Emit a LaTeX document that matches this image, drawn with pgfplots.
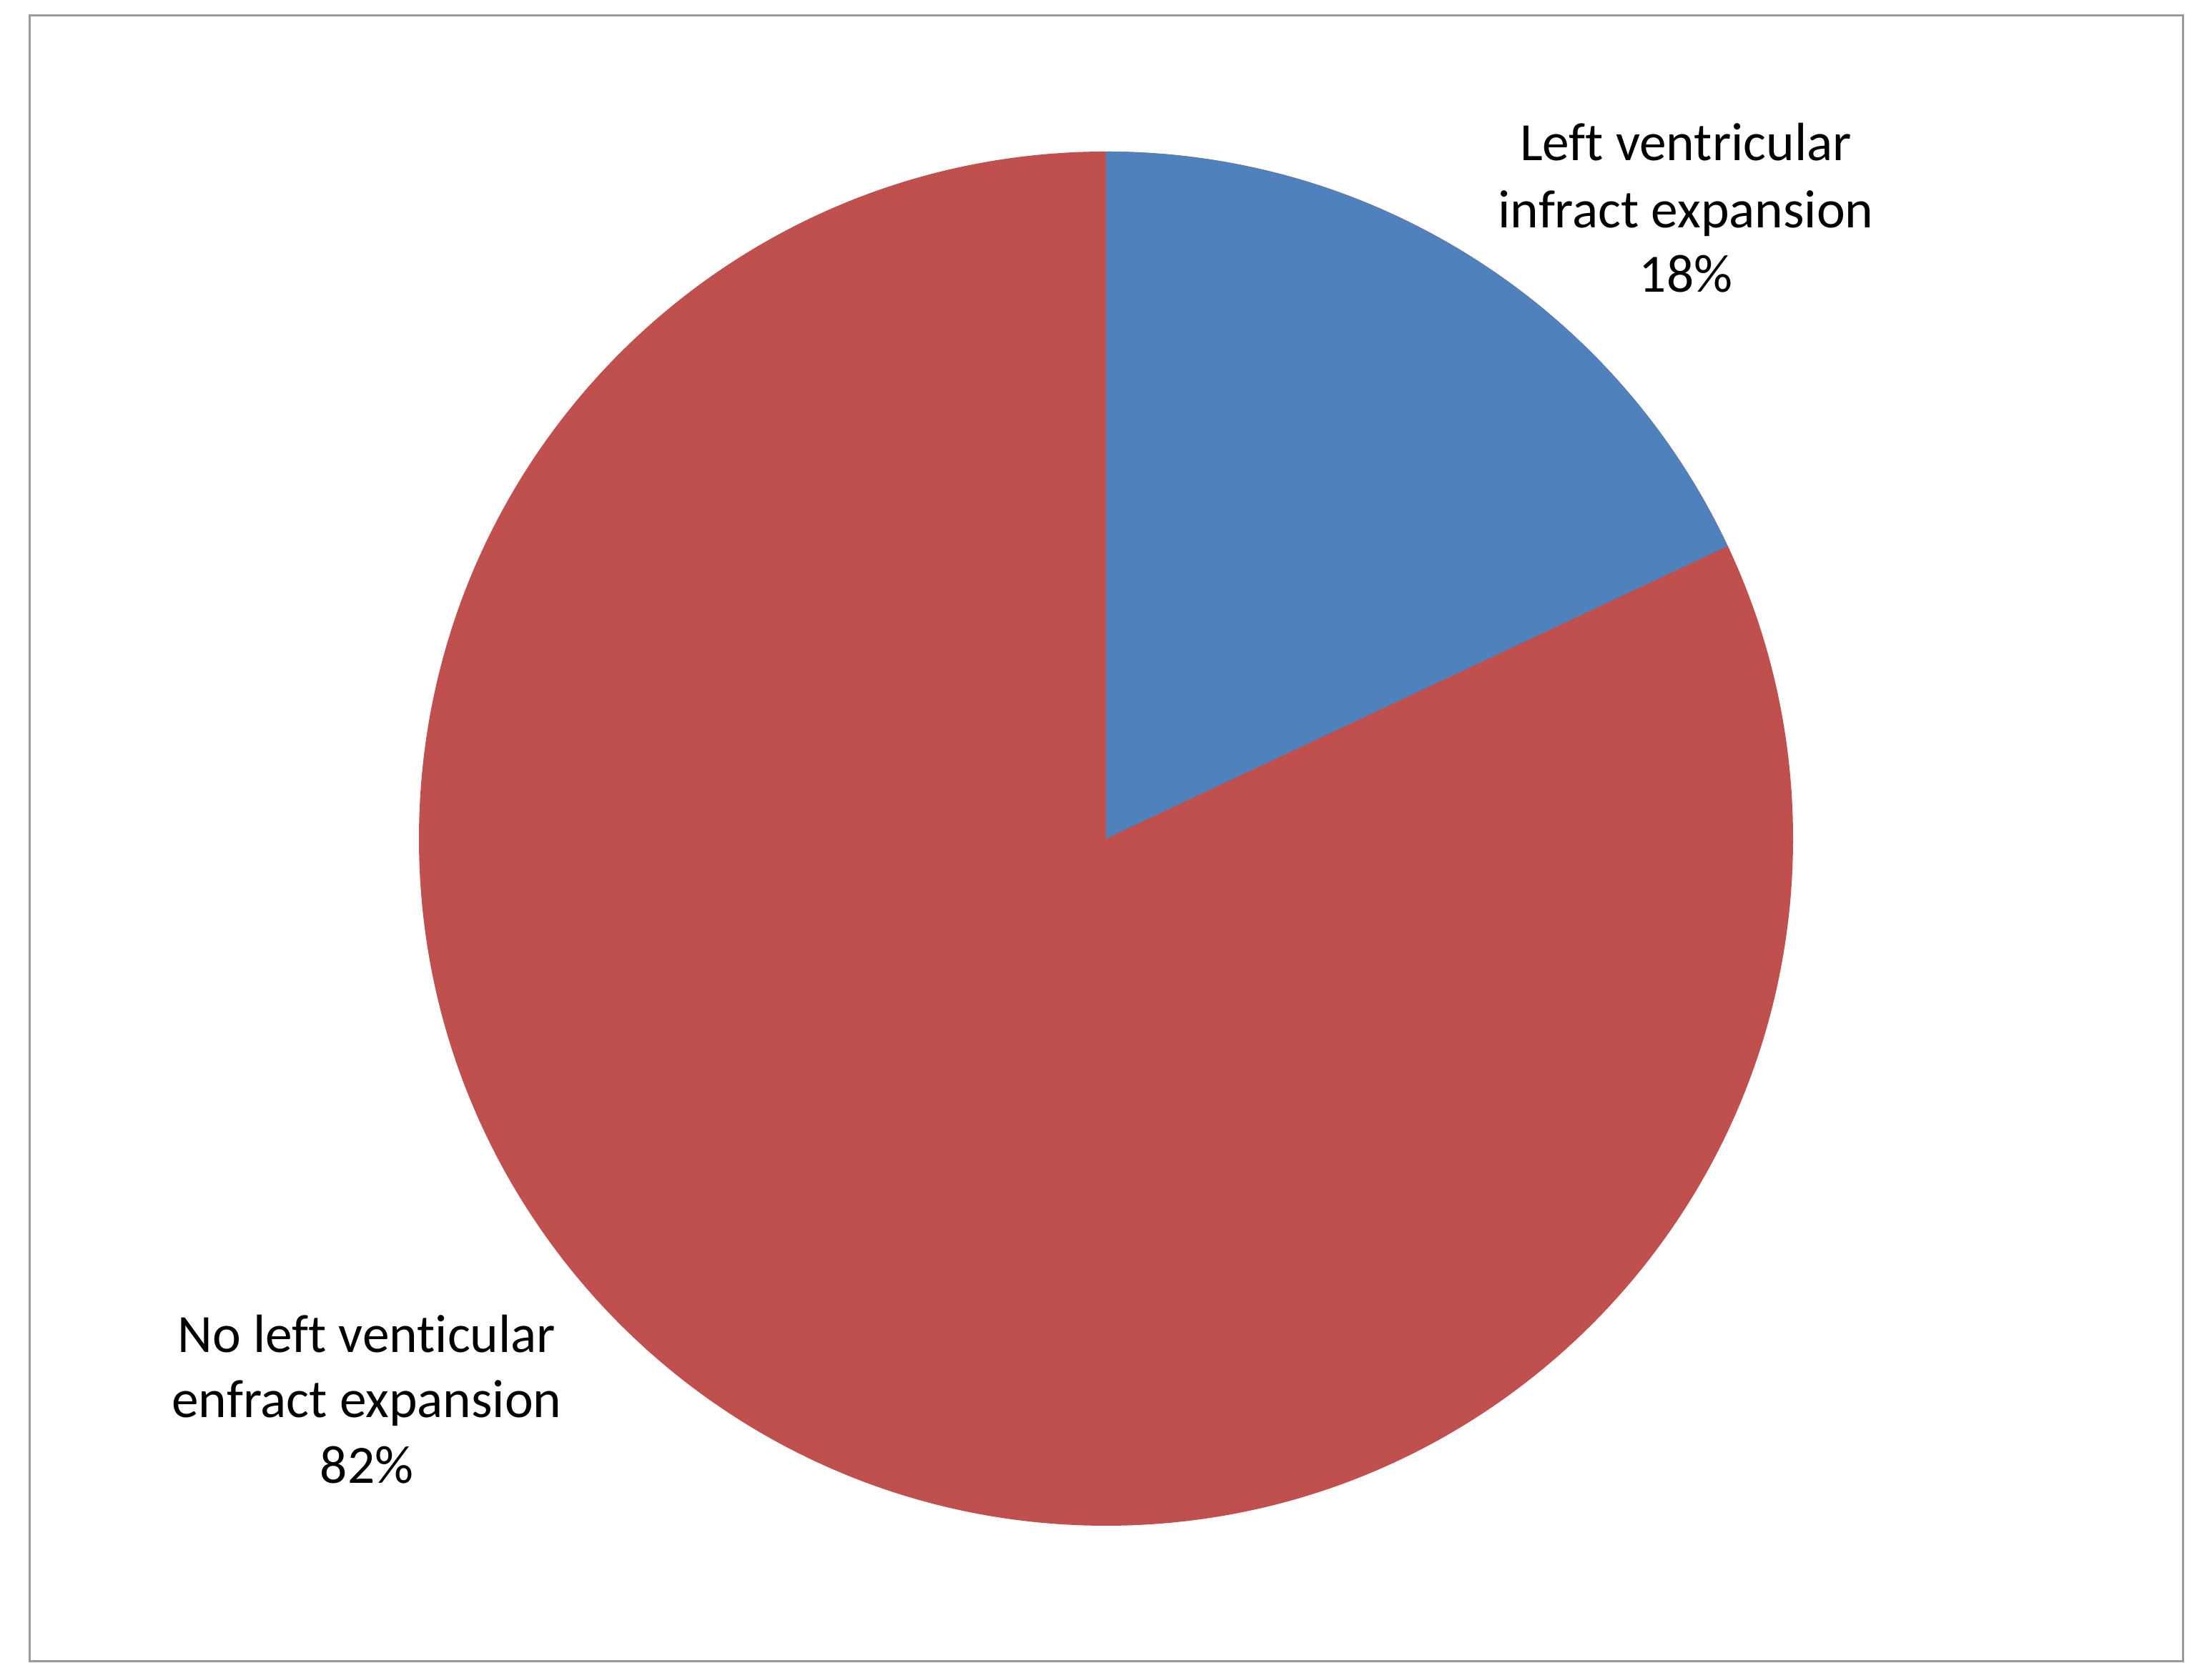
\documentclass[border=0pt]{standalone}
\usepackage{pgfplots}
\usepackage{pgfplotstable}
\pgfplotsset{compat=1.18}
\usepackage{fontspec}
\setmainfont[Ligatures=NoCommon]{Carlito}
\definecolor{pieblue}{HTML}{4F81BD}
\definecolor{piered}{HTML}{C0504D}
\definecolor{framegray}{HTML}{9A9A9A}

\pgfplotstableread{
label value
expansion 18
noexpansion 82
}\piedata

\begin{document}
\begin{tikzpicture}
\pgfplotstablegetelem{0}{value}\of\piedata \let\valA\pgfplotsretval
\pgfplotstablegetelem{1}{value}\of\piedata \let\valB\pgfplotsretval
\pgfmathsetmacro{\total}{\valA+\valB}
\pgfmathsetmacro{\angA}{360*\valA/\total}
\pgfmathsetmacro{\endA}{90-\angA}
\begin{axis}[
  x=0.13pt, y=0.13pt,
  xmin=0, xmax=3094, ymin=0, ymax=2326,
  hide axis, clip=false,
  scale only axis,
]
\fill[white] (axis cs:0,0) rectangle (axis cs:3094,2326);
\draw[framegray, line width=0.39pt] (axis cs:41,2) rectangle (axis cs:3053,2304);
% slices
\fill[piered] (axis cs:1547,1153) -- ++(90:124.93pt) arc[start angle=90, end angle=\endA-360, radius=124.93pt] -- cycle;
\fill[pieblue] (axis cs:1547,1153) -- ++(90:124.93pt) arc[start angle=90, end angle=\endA, radius=124.93pt] -- cycle;
% labels
\tikzset{lbl/.style={anchor=base, font=\fontsize{9.8}{12}\selectfont, inner sep=0pt}}
\node[lbl] at (axis cs:2358,2101) {Left ventricular};
\node[lbl] at (axis cs:2358,2007) {infract expansion};
\node[lbl] at (axis cs:2358,1917) {\valA\%};
\node[lbl] at (axis cs:513,434) {No left venticular};
\node[lbl] at (axis cs:513,343) {enfract expansion};
\node[lbl] at (axis cs:513,251) {\valB\%};
\end{axis}
\end{tikzpicture}
\end{document}
